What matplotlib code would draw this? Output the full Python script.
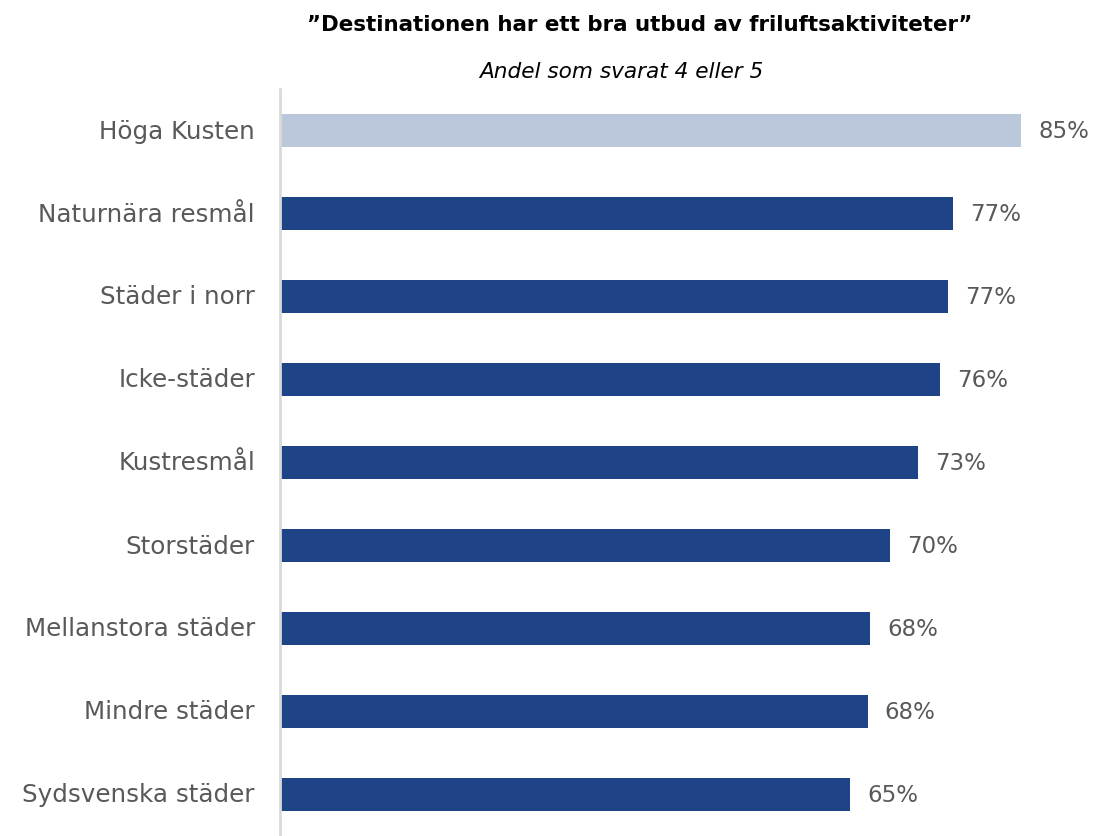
import matplotlib
matplotlib.use("Agg")
import matplotlib.pyplot as plt

categories = ["Höga Kusten", "Naturnära resmål", "Städer i norr", "Icke-städer",
              "Kustresmål", "Storstäder", "Mellanstora städer", "Mindre städer",
              "Sydsvenska städer"]
values = [85.0, 77.2, 76.6, 75.7, 73.2, 70.0, 67.7, 67.4, 65.4]
value_labels = ["85%", "77%", "77%", "76%", "73%", "70%", "68%", "68%", "65%"]
colors = ["#BBC7DA"] + ["#1F4387"] * 8

title = "\u201dDestinationen har ett bra utbud av friluftsaktiviteter\u201d"
subtitle = "Andel som svarat 4 eller 5"

plt.rcParams['font.family'] = ['DejaVu Sans']
fig = plt.figure(figsize=(10.95, 8.37), dpi=100)
ax = fig.add_axes([280/1095, 0.0, 1 - 280/1095, 1 - 90/837])

y = list(range(len(categories)))
ax.barh(y, values, height=0.4, color=colors)
ax.set_ylim(len(categories) - 0.5, -0.5)
ax.set_xlim(0, 815/8.718)
ax.set_yticks(y)
ax.set_yticklabels(categories, fontsize=17.7, color="#595959", va="center")
ax.tick_params(axis='y', length=0, pad=18)
ax.set_xticks([])
for s in ["top", "right", "bottom"]:
    ax.spines[s].set_visible(False)
ax.spines["left"].set_color("#D9D9D9")
ax.spines["left"].set_linewidth(2)

for yi, v, lab in zip(y, values, value_labels):
    ax.annotate(lab, (v, yi), xytext=(17, 0), textcoords="offset pixels",
                va="center", ha="left", fontsize=16.5, color="#595959")

fig.text(640/1095, 1 - 25/837, title, ha="center", va="center", fontsize=15.4,
         fontweight="bold", color="#000000")
fig.text(621/1095, 1 - 72/837, subtitle, ha="center", va="center", fontsize=15.6,
         style="italic", color="#000000")

fig.savefig("out.png", dpi=100)
